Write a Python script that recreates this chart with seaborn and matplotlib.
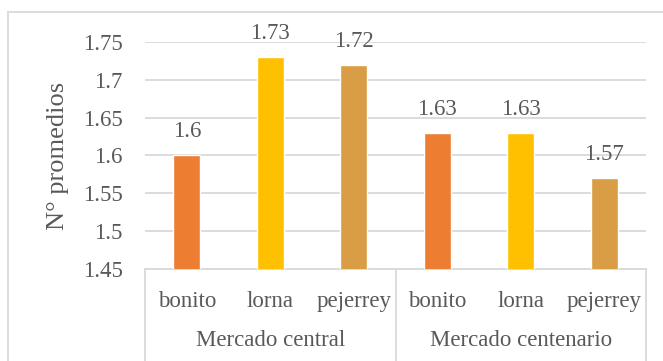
import seaborn as sns
import matplotlib.pyplot as plt
import matplotlib.transforms as mtransforms
from matplotlib.patches import Rectangle
import pandas as pd

markets = ['Mercado central', 'Mercado centenario']
fish = ['bonito', 'lorna', 'pejerrey']
central_vals = [1.60, 1.73, 1.72]
centenario_vals = [1.63, 1.63, 1.57]
value_labels = ['1.6', '1.73', '1.72', '1.63', '1.63', '1.57']
colors = ['#ED7D31', '#FFC000', '#D99D45']

rows = []
for m, vals in zip(markets, [central_vals, centenario_vals]):
    for f, v in zip(fish, vals):
        rows.append({'slot': m + '|' + f, 'market': m, 'fish': f, 'value': v})
df = pd.DataFrame(rows)

sns.set_theme(style='white')
plt.rcParams['font.family'] = ['Liberation Serif', 'DejaVu Serif']
text_c = '#595959'
grid_c = '#D9D9D9'
fs = 16.5

fig = plt.figure(figsize=(6.63, 3.61), dpi=100)
ax = fig.add_axes([145 / 663, 1 - 269 / 361, 501 / 663, 227 / 361])

sns.barplot(data=df, x='slot', y='value', hue='fish', palette=colors,
            saturation=1, dodge=False, width=0.32, legend=False, ax=ax,
            zorder=3)

ax.set_ylim(1.45, 1.75)
ax.set_yticks([1.45, 1.5, 1.55, 1.6, 1.65, 1.7, 1.75])
ax.set_yticklabels(['1.45', '1.5', '1.55', '1.6', '1.65', '1.7', '1.75'])
ax.yaxis.grid(True, color=grid_c, linewidth=1.3, zorder=0)
ax.set_axisbelow(True)
ax.tick_params(axis='y', length=0, pad=16, labelsize=fs, labelcolor=text_c)
ax.set_ylabel('N° promedios', fontsize=19, color=text_c, labelpad=10)
ax.set_xlabel('')
ax.set_xticks(range(6))
ax.set_xticklabels(fish * 2)
ax.tick_params(axis='x', length=0, pad=16, labelsize=fs, labelcolor=text_c)
ax.set_xlim(-0.5, 5.5)

for s in ['top', 'left', 'right']:
    ax.spines[s].set_visible(False)
ax.spines['bottom'].set_color(grid_c)
ax.spines['bottom'].set_linewidth(1.3)

# data labels, bars sorted left to right
bars = sorted([b for b in ax.patches if b.get_height() > 0], key=lambda b: b.get_x())
for p, lab in zip(bars, value_labels):
    ax.annotate(lab, (p.get_x() + p.get_width() / 2, p.get_height()),
                xytext=(0, 17), textcoords='offset points',
                ha='center', va='center', fontsize=fs, color=text_c)

# multi-level category axis
trans = mtransforms.blended_transform_factory(ax.transData, ax.transAxes)
for xb in [-0.5, 2.5, 5.5]:
    ax.plot([xb, xb], [0, -0.5], transform=trans, color=grid_c,
            linewidth=1.3, clip_on=False)
for i, m in enumerate(markets):
    ax.text(1 + 3 * i, -0.315, m, transform=trans, ha='center', va='center',
            fontsize=fs, color=text_c)

# outer chart border
fig.patches.append(Rectangle((8 / 663, -0.2), 1.2, 0.2 + 1 - 12 / 361,
                             transform=fig.transFigure, fill=False,
                             edgecolor=grid_c, linewidth=1.3))

fig.savefig('out.png', dpi=100)
